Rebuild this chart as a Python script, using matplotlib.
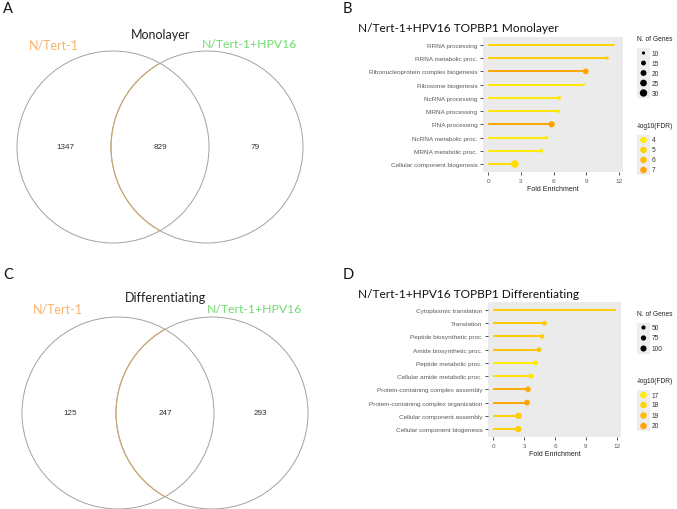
import matplotlib
matplotlib.use('Agg')
import matplotlib.pyplot as plt
import numpy as np
from matplotlib.patches import Circle, Arc
from matplotlib.colors import LinearSegmentedColormap

W, H = 677, 510

# Venn counts: only N/Tert-1, shared, only N/Tert-1+HPV16
set_names = ['N/Tert-1', 'N/Tert-1+HPV16']
mono_counts = [1347, 829, 79]
diff_counts = [125, 247, 293]

# GO enrichment, monolayer (top to bottom)
mono_terms = ['RRNA processing', 'RRNA metabolic proc.',
              'Ribonucleoprotein complex biogenesis', 'Ribosome biogenesis',
              'NcRNA processing', 'MRNA processing', 'RNA processing',
              'NcRNA metabolic proc.', 'MRNA metabolic proc.',
              'Cellular component biogenesis']
mono_fold = [11.55, 10.95, 8.97, 8.82, 6.5, 6.4, 5.83, 5.35, 4.86, 2.44]
mono_genes = [9, 10, 20, 9, 12, 11, 22, 11, 12, 31]
mono_fdr = [5.0, 5.3, 6.9, 4.3, 4.1, 4.2, 7.0, 4.0, 4.0, 4.6]
mono_size_breaks = [10, 15, 20, 25, 30]
mono_fdr_breaks = [4, 5, 6, 7]

# GO enrichment, differentiating (top to bottom)
diff_terms = ['Cytoplasmic translation', 'Translation',
              'Peptide biosynthetic proc.', 'Amide biosynthetic proc.',
              'Peptide metabolic proc.', 'Cellular amide metabolic proc.',
              'Protein-containing complex assembly',
              'Protein-containing complex organization',
              'Cellular component assembly', 'Cellular component biogenesis']
diff_fold = [11.8, 4.98, 4.75, 4.45, 4.13, 3.67, 3.38, 3.28, 2.47, 2.44]
diff_genes = [30, 60, 58, 62, 64, 70, 85, 90, 110, 112]
diff_fdr = [18.3, 18.5, 18.4, 18.6, 17.0, 17.3, 19.7, 20.0, 18.3, 18.2]
diff_size_breaks = [50, 75, 100]
diff_fdr_breaks = [17, 18, 19, 20]

cmap = LinearSegmentedColormap.from_list('fdr', ['#FFEE00', '#FFA200'])
title_font = ['Lato', 'DejaVu Sans']
gg_font = ['Liberation Sans', 'DejaVu Sans']

fig = plt.figure(figsize=(W / 100, H / 100), dpi=100)


def fx(x):
    return x / W


def fy(y):
    return 1 - y / H


# background axes in pixel units for the venn diagrams and panel letters
vax = fig.add_axes([0, 0, 1, 1])
vax.set_xlim(0, W)
vax.set_ylim(H, 0)
vax.axis('off')


def venn(cx, cy, r, d, counts, title, title_xy, lab_y, lab_x):
    edge = '#A8A099'
    vax.add_patch(Circle((cx, cy), r, fill=False, ec=edge, lw=0.7))
    vax.add_patch(Circle((cx + d, cy), r, fill=False, ec=edge, lw=0.7))
    # arc of the right circle lying inside the left circle is tinted
    ang = np.degrees(np.arccos((d / 2) / r))
    vax.add_patch(Arc((cx + d, cy), 2 * r, 2 * r, theta1=180 - ang,
                      theta2=180 + ang, ec='#CDA86E', lw=0.8))
    xs = [cx - r * 0.5, cx + d / 2, cx + d + r * 0.5]
    for x, c in zip(xs, counts):
        vax.text(x, cy, str(c), fontsize=5.9, color='#333333',
                 ha='center', va='center', family=gg_font)
    vax.text(title_xy[0], title_xy[1], title, fontsize=9, color='#222222',
             ha='center', va='center', family=title_font)
    vax.text(lab_x[0], lab_y, set_names[0], fontsize=9, color='#F9B56E',
             ha='left', va='center', family=title_font)
    vax.text(lab_x[1], lab_y, set_names[1], fontsize=8.8, color='#6FDC6F',
             ha='left', va='center', family=title_font)


venn(113, 148, 96, 94, mono_counts, 'Monolayer', (161, 35), 45, (29, 202))
venn(118, 414, 96, 94, diff_counts, 'Differentiating', (165, 298), 310,
     (33, 207))

for lab, x, y in [('A', 3, 9), ('B', 343, 9), ('C', 3, 275), ('D', 343, 275)]:
    vax.text(x, y, lab, fontsize=10.5, ha='left', va='center',
             family=title_font, color='#111111')


def size_px(n, lo, hi, dmin, dmax):
    t = np.clip((np.asarray(n, float) - lo) / (hi - lo), 0, 1)
    d = dmin + np.sqrt(t) * (dmax - dmin)
    return (d * 0.72) ** 2


def lollipop(box, terms, fold, genes, fdr, flim, glim, title, title_y):
    x0, y0, x1, y1 = box
    ax = fig.add_axes([fx(x0), fy(y1), (x1 - x0) / W, (y1 - y0) / H])
    ax.set_facecolor('#EBEBEB')
    y = np.arange(len(terms))[::-1] + 1
    cols = cmap((np.array(fdr) - flim[0]) / (flim[1] - flim[0]))
    ax.hlines(y, 0, fold, colors=cols, lw=1.4)
    ax.scatter(fold, y, s=size_px(genes, *glim), c=cols, zorder=3,
               linewidths=0)
    ax.set_yticks(y)
    ax.set_yticklabels(terms, family=gg_font)
    ax.set_xticks([0, 3, 6, 9, 12])
    ax.set_xlim(-0.5, 12.4)
    ax.set_ylim(0.4, len(terms) + 0.6)
    for s in ax.spines.values():
        s.set_visible(False)
    ax.tick_params(length=2, width=0.6, color='#333333', labelsize=4.6,
                   labelcolor='#5A5A5A', pad=2)
    for t in ax.get_xticklabels():
        t.set_family(gg_font)
    ax.set_xlabel('Fold Enrichment', fontsize=5, color='#222222',
                  labelpad=2, family=gg_font)
    fig.text(fx(358), fy(title_y), title, fontsize=8.6, ha='left',
             va='center', family=title_font, color='#111111')
    return ax


def legend_block(x, y_title, title, labels, ys, sizes, colors):
    fig.text(fx(x), fy(y_title), title, fontsize=4.8, ha='left', va='center',
             family=gg_font, color='#222222')
    top, bot = ys[0] - 5, ys[-1] + 5
    lax = fig.add_axes([fx(x), fy(bot), 13 / W, (bot - top) / H])
    lax.set_facecolor('#EDEDED')
    lax.set_xlim(0, 1)
    lax.set_ylim(bot, top)
    lax.scatter([0.5] * len(ys), ys, s=sizes, c=colors, linewidths=0)
    lax.set_xticks([])
    lax.set_yticks([])
    for s in lax.spines.values():
        s.set_visible(False)
    for lab, yy in zip(labels, ys):
        fig.text(fx(x + 15), fy(yy), str(lab), fontsize=4.8, ha='left',
                 va='center', family=gg_font, color='#333333')


# panel B
mono_glim = (9, 31, 2, 7.5)
mono_flim = (3.9, 7.1)
lollipop((483, 38, 623, 173), mono_terms, mono_fold, mono_genes, mono_fdr,
         mono_flim, mono_glim, 'N/Tert-1+HPV16 TOPBP1 Monolayer', 29)
legend_block(637, 40, 'N. of Genes', mono_size_breaks, [54, 64, 74, 84, 94],
             size_px(mono_size_breaks, *mono_glim), 'black')
fcols = cmap((np.array(mono_fdr_breaks) - mono_flim[0]) /
             (mono_flim[1] - mono_flim[0]))
legend_block(637, 127, '-log10(FDR)', mono_fdr_breaks, [141, 151, 161, 171],
             (6.5 * 0.72) ** 2, fcols)

# panel D
diff_glim = (30, 115, 2, 6.5)
diff_flim = (16.9, 20.1)
lollipop((488, 303, 621, 438), diff_terms, diff_fold, diff_genes, diff_fdr,
         diff_flim, diff_glim, 'N/Tert-1+HPV16 TOPBP1 Differentiating', 295)
legend_block(637, 315, 'N. of Genes', diff_size_breaks, [328.5, 339, 349.5],
             size_px(diff_size_breaks, *diff_glim), 'black')
fcols = cmap((np.array(diff_fdr_breaks) - diff_flim[0]) /
             (diff_flim[1] - diff_flim[0]))
legend_block(637, 382, '-log10(FDR)', diff_fdr_breaks, [396, 406, 416.5, 427],
             (6.5 * 0.72) ** 2, fcols)

fig.savefig('out.png', dpi=100)
